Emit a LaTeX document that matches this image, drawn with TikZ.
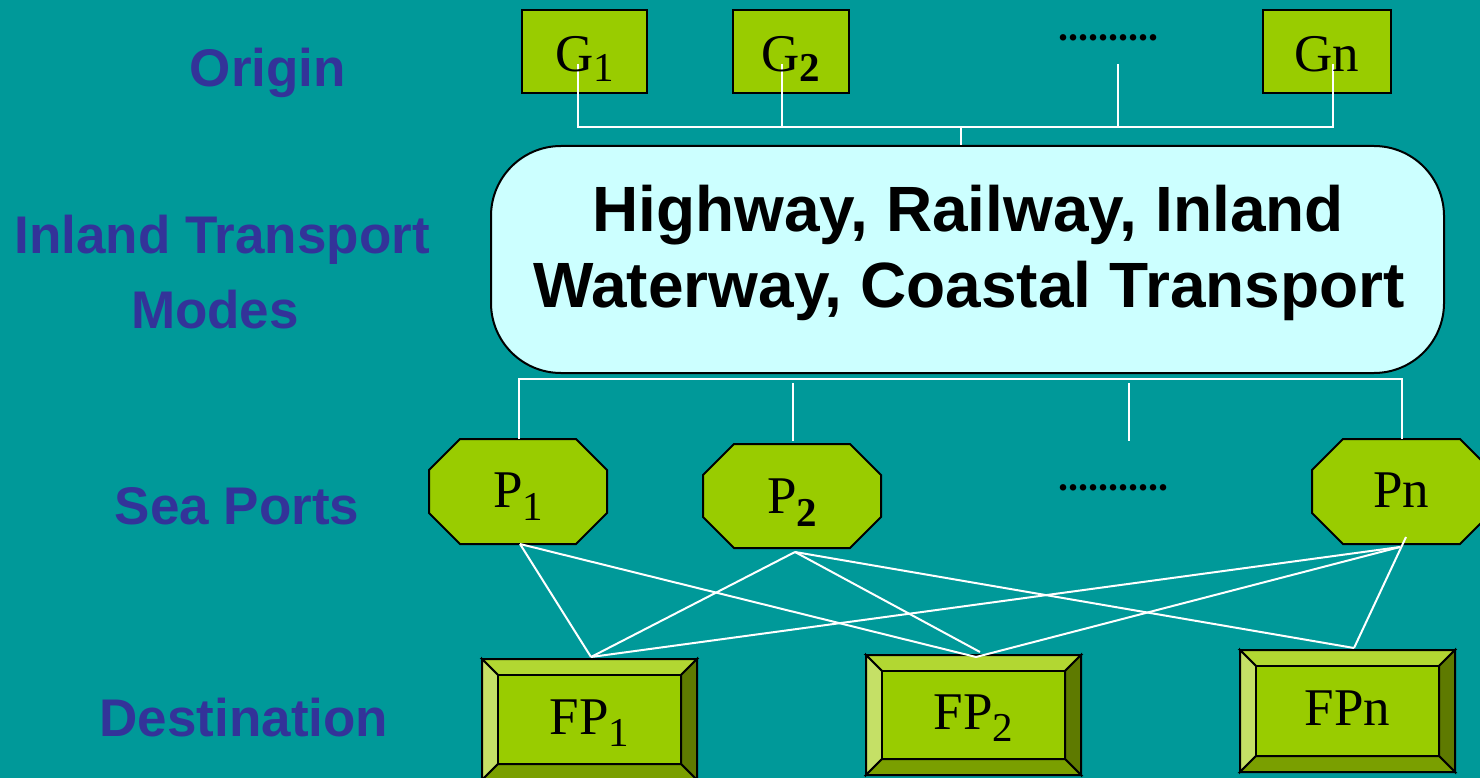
\documentclass[tikz,border=0pt]{standalone}
\usepackage{fontspec}
\setmainfont{Liberation Serif}
\setsansfont{Liberation Sans}
\usetikzlibrary{calc}
\definecolor{bgteal}{HTML}{009999}
\definecolor{limefill}{HTML}{99CC00}
\definecolor{labblue}{HTML}{333399}
\definecolor{paleblue}{HTML}{CCFFFF}
\definecolor{bvtop}{HTML}{B2D732}
\definecolor{bvleft}{HTML}{C5E066}
\definecolor{bvright}{HTML}{5E7A00}
\definecolor{bvbot}{HTML}{7A9F00}
\newcommand\subsc[2][11pt]{\raisebox{-#1}{\fontsize{41}{44}\selectfont #2}}
\newcommand\octbox[1]{%
  \filldraw[octo] ($(#1.north west)+(31,0)$) -- ($(#1.north east)+(-31,0)$) -- ($(#1.north east)+(0,31)$) -- ($(#1.south east)+(0,-31)$) -- ($(#1.south east)+(-31,0)$) -- ($(#1.south west)+(31,0)$) -- ($(#1.south west)+(0,-31)$) -- ($(#1.north west)+(0,31)$) -- cycle;}
\newcommand\bevelbox[1]{%
  \filldraw[bev, fill=bvtop] (#1.north west) -- (#1.north east) -- ($(#1.north east)+(-16,16)$) -- ($(#1.north west)+(16,16)$) -- cycle;
  \filldraw[bev, fill=bvleft] (#1.north west) -- ($(#1.north west)+(16,16)$) -- ($(#1.south west)+(16,-16)$) -- (#1.south west) -- cycle;
  \filldraw[bev, fill=bvright] (#1.north east) -- ($(#1.north east)+(-16,16)$) -- ($(#1.south east)+(-16,-16)$) -- (#1.south east) -- cycle;
  \filldraw[bev, fill=bvbot] (#1.south west) -- ($(#1.south west)+(16,-16)$) -- ($(#1.south east)+(-16,-16)$) -- (#1.south east) -- cycle;
  \filldraw[bev, fill=limefill] ($(#1.north west)+(16,16)$) rectangle ($(#1.south east)+(-16,-16)$);}
\begin{document}
\begin{tikzpicture}[x=1pt,y=-1pt,
  gbox/.style={draw=black, line width=2pt, fill=limefill, minimum height=83pt, inner sep=0pt, outer sep=0pt},
  geom/.style={draw=none, inner sep=0pt, outer sep=0pt},
  octo/.style={draw=black, line width=2pt, fill=limefill, line join=miter},
  bev/.style={draw=black, line width=2pt, line join=miter},
  mainbox/.style={draw=black, line width=2pt, fill=paleblue, rounded corners=70pt, inner sep=0pt, minimum width=953pt, minimum height=227pt},
  serif/.style={inner sep=0pt, anchor=base, font=\fontsize{53}{60}\selectfont},
  dots/.style={inner sep=0pt, anchor=base, font=\fontsize{40}{44}\selectfont\bfseries},
  big/.style={inner sep=0pt, anchor=base, font=\sffamily\bfseries\fontsize{64}{77}\selectfont},
  lab/.style={inner sep=0pt, anchor=base, text=labblue, font=\sffamily\bfseries\fontsize{53}{60}\selectfont},
  wire/.style={draw=white, line width=2pt}]
\fill[bgteal] (0,0) rectangle (1480,778);
\useasboundingbox (0,0) rectangle (1480,778);
\clip (0,0) rectangle (1480,778);

% left labels
\node[lab] (lorig) at (268,87) {Origin};
\node[lab] (linl1) at (222,253) {Inland Transport};
\node[lab] (linl2) at (215,328) {Modes};
\node[lab] (lsea) at (237,524) {Sea Ports};
\node[lab] (ldest) at (244,736) {Destination};

% origin boxes
\node[gbox, minimum width=125pt] (G1) at (584.5,51.5) {};
\node[gbox, minimum width=116pt] (G2) at (791,51.5) {};
\node[gbox, minimum width=128pt] (Gn) at (1327,51.5) {};
\node[dots] (gdots) at (1108,41) {..........};

% main box
\node[mainbox] (MB) at (967.5,259.5) {};
\node[big] (mt1) at (968,231) {Highway, Railway, Inland};
\node[big] (mt2) at (969,307) {Waterway, Coastal Transport};

% ports
\node[geom, minimum width=178pt, minimum height=105pt] (P1) at (518,491.5) {};
\node[geom, minimum width=178pt, minimum height=104pt] (P2) at (792,496) {};
\node[geom, minimum width=179pt, minimum height=105pt] (Pn) at (1401.5,491.5) {};
\octbox{P1}\octbox{P2}\octbox{Pn}
\node[dots] (pdots) at (1113,490) {...........};

% destinations
\node[geom, minimum width=215pt, minimum height=121pt] (FP1) at (589.5,719.5) {};
\node[geom, minimum width=215pt, minimum height=120pt] (FP2) at (973.5,715) {};
\node[geom, minimum width=215pt, minimum height=122pt] (FPn) at (1347.5,711) {};
\bevelbox{FP1}\bevelbox{FP2}\bevelbox{FPn}

% top connectors
\coordinate (g1s) at (578,64);
\coordinate (g2s) at (782,64);
\coordinate (gds) at (1118,64);
\coordinate (gns) at (1333,64);
\coordinate (tbar) at (961,127);
\draw[wire] (g1s) -- (g1s |- tbar) -- (gns |- tbar) -- (gns);
\draw[wire] (g2s) -- (g2s |- tbar);
\draw[wire] (gds) -- (gds |- tbar);
\draw[wire] (tbar) -- (tbar |- MB.north);

% middle connectors
\coordinate (mbar) at (519,379);
\coordinate (m2) at (793,383);
\coordinate (m3) at (1129,383);
\coordinate (m4) at (1402,379);
\draw[wire] (mbar |- P1.north) -- (mbar) -- (m4) -- (m4 |- Pn.north);
\draw[wire] (m2) -- (793,441);
\draw[wire] (m3) -- (1129,441);

% port-destination connectors
\coordinate (p1b) at ($(P1.south)+(2,0)$);
\coordinate (p2b) at ($(P2.south)+(3,4)$);
\coordinate (pnb) at ($(Pn.south)+(-1.5,3)$);
\coordinate (pnc) at ($(Pn.south)+(4.5,-7)$);
\coordinate (fp1t) at ($(FP1.north)+(1.5,-2)$);
\coordinate (fp2t) at ($(FP2.north)+(2.5,2)$);
\coordinate (fp2u) at ($(FP2.north)+(6.5,-3)$);
\coordinate (fpnt) at ($(FPn.north)+(6.5,-2)$);
\draw[wire] (p1b) -- (fp1t);
\draw[wire] (p1b) -- (fp2t);
\draw[wire] (p2b) -- (fp1t);
\draw[wire] (p2b) -- (fp2u);
\draw[wire] (p2b) -- (fpnt);
\draw[wire] (pnb) -- (fp1t);
\draw[wire] (pnb) -- (fp2t);
\draw[wire] (pnc) -- (fpnt);

% box texts
\node[serif] (G1t) at (584.5,72) {G\subsc[10pt]{1}};
\node[serif] (G2t) at (791,72) {G\subsc[10pt]{\textbf{2}}};
\node[serif] (Gnt) at (1327,72) {Gn};
\node[serif] (P1t) at (518,507) {P\subsc[13pt]{1}};
\node[serif] (P2t) at (792,513) {P\subsc[13pt]{\textbf{2}}};
\node[serif] (Pnt) at (1401,507) {Pn};
\node[serif] (FP1t) at (589.5,734) {FP\subsc[12pt]{1}};
\node[serif] (FP2t) at (973.5,729) {FP\subsc[12pt]{2}};
\node[serif] (FPnt) at (1347.5,725) {FPn};
\end{tikzpicture}
\end{document}
